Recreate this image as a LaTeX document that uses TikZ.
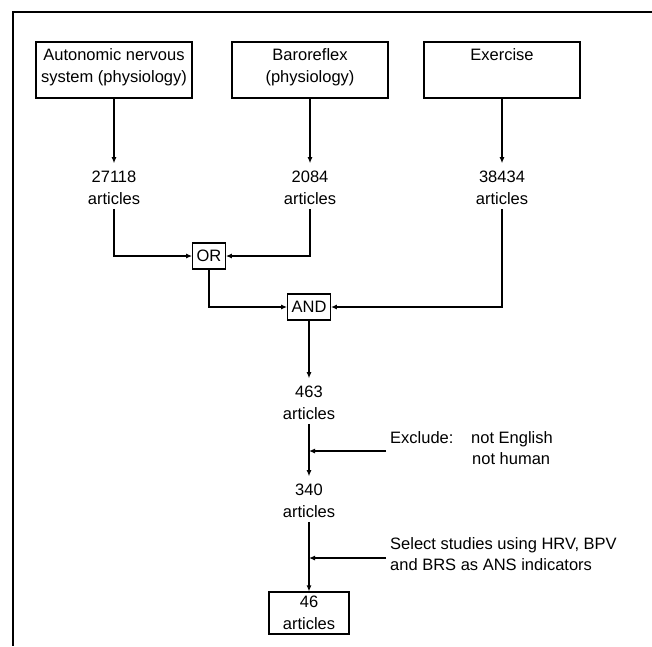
\documentclass[tikz,border=0pt]{standalone}
\usepackage{fontspec}
\setmainfont{Liberation Sans}
\usetikzlibrary{positioning,calc,arrows.meta}

\tikzset{
	box/.style={draw,line width=1.1pt,inner xsep=3pt,inner ysep=7pt},
	gate/.style={draw,line width=1.1pt,inner xsep=4pt,inner ysep=0pt,minimum height=26pt},
	count/.style={align=center,inner sep=4pt},
	note/.style={inner sep=0pt},
	arr/.style={-{Latex[length=6pt,width=5pt]},line width=1.1pt},
	frame/.style={line width=1.5pt}
}
\newcommand{\boxtext}[1]{\parbox[c][42pt][t]{150pt}{\centering #1}}

\begin{document}
\begin{tikzpicture}[x=1pt,y=-1pt,every node/.append style={font=\fontsize{16.5}{21.5}\selectfont}]
		\useasboundingbox (0,0) rectangle (652,646);
		\draw[frame] (652,12) -- (13,12) -- (13,646);

		\node[box] (ans) at (114,70) {\boxtext{Autonomic nervous\\system (physiology)}};
		\node[box] (baro) at (310,70) {\boxtext{Baroreflex\\(physiology)}};
		\node[box] (exer) at (502,70) {\boxtext{Exercise}};

		\node[count] (nans) at (114,188) {27118\\articles};
		\node[count] (nbaro) at (310,188) {2084\\articles};
		\node[count] (nexer) at (502,188) {38434\\articles};

		\node[gate] (or) at (209,256) {OR};
		\node[gate] (and) at (309,307) {AND};

		\node[count] (nand) at (309,403) {463\\articles};
		\node[count] (nlang) at (309,501) {340\\articles};
		\node[draw,line width=1.1pt,align=center,minimum width=80pt,minimum height=42pt,inner sep=2pt] (final) at (309,613) {46\\articles};

		\coordinate (excl) at (386,451);
		\coordinate (sel) at (386,558);
		\node[note,anchor=base west] (exlab) at (390,443) {Exclude:};
		\node[note,anchor=base west] (eng) at (471,443) {not English};
		\node[note,anchor=base west] (hum) at (472,464) {not human};
		\node[note,anchor=north west,align=left] (sellab) at (390,537) {Select studies using HRV, BPV\\and BRS as ANS indicators};

		\draw[arr,shorten >=4pt] (ans) -- (nans);
		\draw[arr,shorten >=4pt] (baro) -- (nbaro);
		\draw[arr,shorten >=4pt] (exer) -- (nexer);
		\draw[arr] (nans) |- (or);
		\draw[arr] (nbaro) |- (or);
		\draw[arr] (or) |- (and);
		\draw[arr] (nexer) |- (and);
		\draw[arr,shorten >=4pt] (and) -- (nand);
		\draw[arr,shorten >=4pt] (nand) -- (nlang);
		\draw[arr] (nlang) -- (final);
		\draw[arr] (excl) -- (excl -| nand);
		\draw[arr] (sel) -- (sel -| nlang);
	\end{tikzpicture}
\end{document}
